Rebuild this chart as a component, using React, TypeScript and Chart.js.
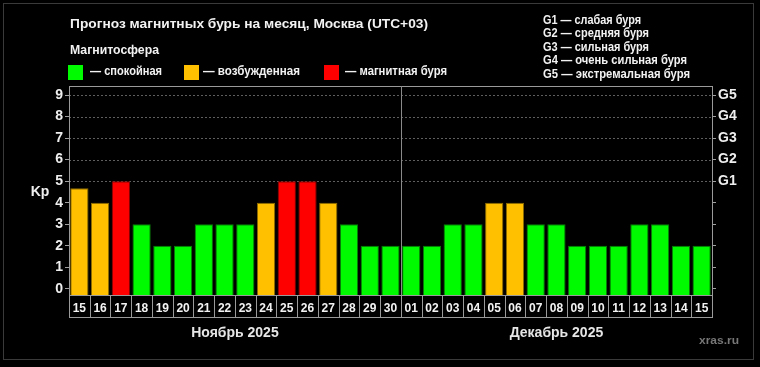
import React, { useEffect, useRef } from 'react';
import { Chart, registerables } from 'chart.js';
Chart.register(...registerables);

const days = ['15','16','17','18','19','20','21','22','23','24','25','26','27','28','29','30','01','02','03','04','05','06','07','08','09','10','11','12','13','14','15'];
const kpValues = [4.67,4,5,3,2,2,3,3,3,4,5,5,4,3,2,2, 2,2,3,3,4,4,3,3,2,2,2,3,3,2,2];
const kpTicks = [0,1,2,3,4,5,6,7,8,9];
const gLevels = ['G1','G2','G3','G4','G5'];
const gDescriptions = ['G1 — слабая буря','G2 — средняя буря','G3 — сильная буря','G4 — очень сильная буря','G5 — экстремальная буря'];
const months = ['Ноябрь 2025','Декабрь 2025'];
const monthSplitIndex = 16;
const legendLabels = ['— спокойная','— возбужденная','— магнитная буря'];
const titleText = 'Прогноз магнитных бурь на месяц, Москва (UTC+03)';
const subtitleText = 'Магнитосфера';

const GREEN = '#00fa00';
const ORANGE = '#ffc000';
const RED = '#ff0000';
const FONT = '"Liberation Sans", Arial, sans-serif';
const Y_MIN = -0.29;
const Y_MAX = 9.42;

const fillFor = (v: number) => (v >= 5 ? RED : v >= 4 ? ORANGE : GREEN);
const borderFor = (v: number) => (v >= 5 ? '#8a0000' : v >= 4 ? '#8a6a00' : '#0a7a0a');

function drawText(ctx: CanvasRenderingContext2D, text: string, x: number, y: number, size: number, color: string, width?: number, align: CanvasTextAlign = 'left') {
  ctx.save();
  ctx.font = `bold ${size}px ${FONT}`;
  ctx.fillStyle = color;
  ctx.textBaseline = 'middle';
  ctx.textAlign = align;
  if (width) {
    const w = ctx.measureText(text).width;
    ctx.translate(x, y);
    ctx.scale(width / w, 1);
    ctx.fillText(text, 0, 0);
  } else {
    ctx.fillText(text, x, y);
  }
  ctx.restore();
}

const overlay = {
  id: 'overlay',
  beforeDraw(chart: any) {
    const { ctx, width, height } = chart;
    ctx.save();
    ctx.fillStyle = '#000';
    ctx.fillRect(0, 0, width, height);
    ctx.strokeStyle = '#3a3a3a';
    ctx.lineWidth = 1;
    ctx.strokeRect(3.5, 3.5, 750, 356);
    ctx.restore();
  },
  beforeDatasetsDraw(chart: any) {
    const { ctx, chartArea: a, scales } = chart;
    const y = scales.y;
    ctx.save();
    ctx.strokeStyle = '#5e5e5e';
    ctx.lineWidth = 1;
    ctx.setLineDash([2, 2]);
    kpTicks.filter((v) => v >= 5).forEach((v) => {
      const py = Math.round(y.getPixelForValue(v)) + 0.5;
      ctx.beginPath();
      ctx.moveTo(a.left, py);
      ctx.lineTo(a.right, py);
      ctx.stroke();
    });
    ctx.restore();
  },
  afterDatasetsDraw(chart: any) {
    const { ctx, chartArea: a, scales } = chart;
    const x = scales.x;
    const step = x.getPixelForValue(1) - x.getPixelForValue(0);
    const edge = (i: number) => x.getPixelForValue(i) - step / 2;
    ctx.save();
    ctx.strokeStyle = '#9a9a9a';
    ctx.lineWidth = 1;
    ctx.strokeRect(Math.round(a.left) + 0.5, Math.round(a.top) + 0.5, Math.round(a.right - a.left), Math.round(a.bottom - a.top));
    const dx = Math.round(edge(monthSplitIndex)) + 0.5;
    ctx.strokeStyle = '#8a8a8a';
    ctx.beginPath();
    ctx.moveTo(dx, a.top);
    ctx.lineTo(dx, a.bottom);
    ctx.stroke();
    const cellBottom = a.bottom + 21.5;
    ctx.strokeStyle = '#9a9a9a';
    ctx.beginPath();
    ctx.moveTo(a.left, Math.round(a.bottom) + 0.5);
    ctx.lineTo(a.right + 1, Math.round(a.bottom) + 0.5);
    ctx.moveTo(a.left, Math.round(cellBottom) + 0.5);
    ctx.lineTo(a.right + 1, Math.round(cellBottom) + 0.5);
    for (let i = 0; i <= days.length; i++) {
      const px = Math.round(edge(i)) + 0.5;
      ctx.moveTo(px, a.bottom);
      ctx.lineTo(px, Math.round(cellBottom) + 0.5);
    }
    ctx.stroke();
    ctx.restore();
  },
  afterDraw(chart: any) {
    const { ctx, scales } = chart;
    const x = scales.x;
    const step = x.getPixelForValue(1) - x.getPixelForValue(0);
    const edge = (i: number) => x.getPixelForValue(i) - step / 2;
    drawText(ctx, titleText, 70, 24, 13.5, '#f2f2f2', 358);
    drawText(ctx, subtitleText, 70, 51, 12.5, '#f2f2f2', 89);
    const legendColors = [GREEN, ORANGE, RED];
    const legendSquareX = [68, 184, 324];
    const legendTextX = [90, 203, 345];
    const legendTextW = [72, 97, 102];
    legendLabels.forEach((t, i) => {
      ctx.fillStyle = legendColors[i];
      ctx.fillRect(legendSquareX[i], 65, 15, 15);
      drawText(ctx, t, legendTextX[i], 72, 12.5, '#f2f2f2', legendTextW[i]);
    });
    const gW = [98, 106, 106, 144, 147];
    const gY = [21, 34, 48, 61, 75];
    gDescriptions.forEach((t, i) => drawText(ctx, t, 543, gY[i], 12.5, '#f2f2f2', gW[i]));
    drawText(ctx, 'Kp', 40, 192, 14, '#eeeeee', undefined, 'center');
    const mid1 = (edge(0) + edge(monthSplitIndex)) / 2;
    const mid2 = (edge(monthSplitIndex) + edge(days.length)) / 2;
    drawText(ctx, months[0], mid1, 333, 14, '#e6e6e6', undefined, 'center');
    drawText(ctx, months[1], mid2, 333, 14, '#e6e6e6', undefined, 'center');
    drawText(ctx, 'xras.ru', 699, 341, 11, '#777777', 40);
  },
};

export default function App() {
  const ref = useRef<HTMLCanvasElement>(null);
  useEffect(() => {
    if (!ref.current) return;
    const yTickBuild = (s: any) => {
      s.ticks = kpTicks.map((v) => ({ value: v }));
    };
    const chart = new Chart(ref.current, {
      type: 'bar',
      data: {
        labels: days,
        datasets: [
          {
            data: kpValues,
            backgroundColor: kpValues.map(fillFor),
            borderColor: kpValues.map(borderFor),
            borderWidth: 1,
            base: Y_MIN,
            barPercentage: 0.88,
            categoryPercentage: 1,
            yAxisID: 'y',
          } as any,
        ],
      },
      options: {
        animation: false,
        responsive: false,
        maintainAspectRatio: false,
        devicePixelRatio: 1,
        layout: { padding: { top: 86, left: 0, right: 0, bottom: 0 } },
        plugins: { legend: { display: false }, tooltip: { enabled: false }, title: { display: false } },
        scales: {
          x: {
            type: 'category',
            offset: true,
            grid: { display: false },
            border: { display: false },
            ticks: {
              color: '#f2f2f2',
              font: { family: FONT, weight: 'bold', size: 12 },
              padding: -2,
              maxRotation: 0,
              minRotation: 0,
              autoSkip: false,
            },
            afterFit: (s: any) => {
              s.height = 72;
            },
          },
          y: {
            position: 'left',
            min: Y_MIN,
            max: Y_MAX,
            afterBuildTicks: yTickBuild,
            grid: { drawOnChartArea: false, drawTicks: true, tickLength: 4, color: '#a0a0a0' },
            border: { display: false },
            ticks: { color: '#eeeeee', font: { family: FONT, weight: 'bold', size: 14 }, padding: 2 },
            afterFit: (s: any) => {
              s.width = 69;
            },
          },
          y2: {
            position: 'right',
            min: Y_MIN,
            max: Y_MAX,
            afterBuildTicks: yTickBuild,
            grid: { drawOnChartArea: false, drawTicks: true, tickLength: 4, color: '#a0a0a0' },
            border: { display: false },
            ticks: {
              color: '#eeeeee',
              font: { family: FONT, weight: 'bold', size: 14 },
              padding: 2,
              callback: (v: any) => (Number(v) >= 5 ? gLevels[Number(v) - 5] : ''),
            },
            afterFit: (s: any) => {
              s.width = 48;
            },
          },
        },
      } as any,
      plugins: [overlay],
    });
    return () => chart.destroy();
  }, []);
  return (
    <div style={{ position: 'fixed', left: 0, top: 0, width: 760, height: 367, background: '#000' }}>
      <canvas ref={ref} width={760} height={367} style={{ display: 'block', width: 760, height: 367 }} />
    </div>
  );
}
